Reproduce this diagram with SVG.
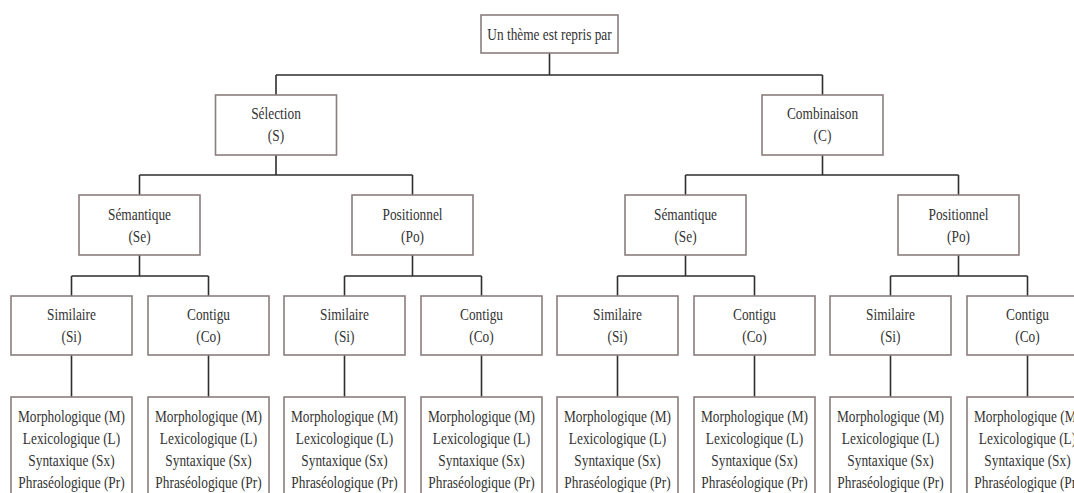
<svg xmlns="http://www.w3.org/2000/svg" width="1074" height="493" viewBox="0 0 1074 493">
<style>
.box{fill:#ffffff;stroke:#8a7e7e;stroke-width:1.6}
.t{font-family:'Liberation Serif','Times New Roman',serif;font-size:17px;fill:#333333;text-anchor:middle}
.c{fill:none;stroke:#2e2e2e;stroke-width:1.6}
</style>
<rect width="1074" height="493" fill="#ffffff"/>
<g id="connectors">
<path class="c" d="M549.5,53V75M276,75H822.5M276,75V95M822.5,75V95"/>
<path class="c" d="M276,155V175M139.5,175H412.5M139.5,175V195M412.5,175V195"/>
<path class="c" d="M822.5,155V175M685.5,175H958.5M685.5,175V195M958.5,175V195"/>
<path class="c" d="M139.5,255V276M71.5,276H208.5M71.5,276V296M208.5,276V296"/>
<path class="c" d="M412.5,255V276M344.5,276H481.5M344.5,276V296M481.5,276V296"/>
<path class="c" d="M685.5,255V276M617.5,276H754.5M617.5,276V296M754.5,276V296"/>
<path class="c" d="M958.5,255V276M890.5,276H1027.5M890.5,276V296M1027.5,276V296"/>
<path class="c" d="M71.5,355V397M208.5,355V397M344.5,355V397M481.5,355V397M617.5,355V397M754.5,355V397M890.5,355V397M1027.5,355V397"/>
</g>
<g font-family="'Liberation Serif','Times New Roman',serif">
<g id="root"><rect class="box" x="481" y="15" width="137" height="38"/><text class="t" transform="translate(549.5,40) scale(0.785,1)">Un thème est repris par</text></g>
<g id="selection"><rect class="box" x="215.5" y="95" width="121" height="60"/><text class="t" transform="translate(276,119) scale(0.785,1)">Sélection</text><text class="t" transform="translate(276,141) scale(0.785,1)">(S)</text></g>
<g id="combinaison"><rect class="box" x="762" y="95" width="121" height="60"/><text class="t" transform="translate(822.5,119) scale(0.785,1)">Combinaison</text><text class="t" transform="translate(822.5,141) scale(0.785,1)">(C)</text></g>
<g id="s-semantique"><rect class="box" x="79" y="195" width="121" height="60"/><text class="t" transform="translate(139.5,220) scale(0.785,1)">Sémantique</text><text class="t" transform="translate(139.5,242) scale(0.785,1)">(Se)</text></g>
<g id="s-positionnel"><rect class="box" x="352" y="195" width="121" height="60"/><text class="t" transform="translate(412.5,220) scale(0.785,1)">Positionnel</text><text class="t" transform="translate(412.5,242) scale(0.785,1)">(Po)</text></g>
<g id="c-semantique"><rect class="box" x="625" y="195" width="121" height="60"/><text class="t" transform="translate(685.5,220) scale(0.785,1)">Sémantique</text><text class="t" transform="translate(685.5,242) scale(0.785,1)">(Se)</text></g>
<g id="c-positionnel"><rect class="box" x="898" y="195" width="121" height="60"/><text class="t" transform="translate(958.5,220) scale(0.785,1)">Positionnel</text><text class="t" transform="translate(958.5,242) scale(0.785,1)">(Po)</text></g>
<g id="sse-si"><rect class="box" x="11" y="296" width="121" height="59"/><text class="t" transform="translate(71.5,320) scale(0.785,1)">Similaire</text><text class="t" transform="translate(71.5,342) scale(0.785,1)">(Si)</text></g>
<g id="sse-co"><rect class="box" x="148" y="296" width="121" height="59"/><text class="t" transform="translate(208.5,320) scale(0.785,1)">Contigu</text><text class="t" transform="translate(208.5,342) scale(0.785,1)">(Co)</text></g>
<g id="spo-si"><rect class="box" x="284" y="296" width="121" height="59"/><text class="t" transform="translate(344.5,320) scale(0.785,1)">Similaire</text><text class="t" transform="translate(344.5,342) scale(0.785,1)">(Si)</text></g>
<g id="spo-co"><rect class="box" x="421" y="296" width="121" height="59"/><text class="t" transform="translate(481.5,320) scale(0.785,1)">Contigu</text><text class="t" transform="translate(481.5,342) scale(0.785,1)">(Co)</text></g>
<g id="cse-si"><rect class="box" x="557" y="296" width="121" height="59"/><text class="t" transform="translate(617.5,320) scale(0.785,1)">Similaire</text><text class="t" transform="translate(617.5,342) scale(0.785,1)">(Si)</text></g>
<g id="cse-co"><rect class="box" x="694" y="296" width="121" height="59"/><text class="t" transform="translate(754.5,320) scale(0.785,1)">Contigu</text><text class="t" transform="translate(754.5,342) scale(0.785,1)">(Co)</text></g>
<g id="cpo-si"><rect class="box" x="830" y="296" width="121" height="59"/><text class="t" transform="translate(890.5,320) scale(0.785,1)">Similaire</text><text class="t" transform="translate(890.5,342) scale(0.785,1)">(Si)</text></g>
<g id="cpo-co"><rect class="box" x="967" y="296" width="121" height="59"/><text class="t" transform="translate(1027.5,320) scale(0.785,1)">Contigu</text><text class="t" transform="translate(1027.5,342) scale(0.785,1)">(Co)</text></g>
<g id="leaf1"><rect class="box" x="11" y="397" width="121" height="110"/><text class="t" transform="translate(71.5,422) scale(0.785,1)">Morphologique (M)</text><text class="t" transform="translate(71.5,444) scale(0.785,1)">Lexicologique (L)</text><text class="t" transform="translate(71.5,466) scale(0.785,1)">Syntaxique (Sx)</text><text class="t" transform="translate(71.5,488) scale(0.785,1)">Phraséologique (Pr)</text></g>
<g id="leaf2"><rect class="box" x="148" y="397" width="121" height="110"/><text class="t" transform="translate(208.5,422) scale(0.785,1)">Morphologique (M)</text><text class="t" transform="translate(208.5,444) scale(0.785,1)">Lexicologique (L)</text><text class="t" transform="translate(208.5,466) scale(0.785,1)">Syntaxique (Sx)</text><text class="t" transform="translate(208.5,488) scale(0.785,1)">Phraséologique (Pr)</text></g>
<g id="leaf3"><rect class="box" x="284" y="397" width="121" height="110"/><text class="t" transform="translate(344.5,422) scale(0.785,1)">Morphologique (M)</text><text class="t" transform="translate(344.5,444) scale(0.785,1)">Lexicologique (L)</text><text class="t" transform="translate(344.5,466) scale(0.785,1)">Syntaxique (Sx)</text><text class="t" transform="translate(344.5,488) scale(0.785,1)">Phraséologique (Pr)</text></g>
<g id="leaf4"><rect class="box" x="421" y="397" width="121" height="110"/><text class="t" transform="translate(481.5,422) scale(0.785,1)">Morphologique (M)</text><text class="t" transform="translate(481.5,444) scale(0.785,1)">Lexicologique (L)</text><text class="t" transform="translate(481.5,466) scale(0.785,1)">Syntaxique (Sx)</text><text class="t" transform="translate(481.5,488) scale(0.785,1)">Phraséologique (Pr)</text></g>
<g id="leaf5"><rect class="box" x="557" y="397" width="121" height="110"/><text class="t" transform="translate(617.5,422) scale(0.785,1)">Morphologique (M)</text><text class="t" transform="translate(617.5,444) scale(0.785,1)">Lexicologique (L)</text><text class="t" transform="translate(617.5,466) scale(0.785,1)">Syntaxique (Sx)</text><text class="t" transform="translate(617.5,488) scale(0.785,1)">Phraséologique (Pr)</text></g>
<g id="leaf6"><rect class="box" x="694" y="397" width="121" height="110"/><text class="t" transform="translate(754.5,422) scale(0.785,1)">Morphologique (M)</text><text class="t" transform="translate(754.5,444) scale(0.785,1)">Lexicologique (L)</text><text class="t" transform="translate(754.5,466) scale(0.785,1)">Syntaxique (Sx)</text><text class="t" transform="translate(754.5,488) scale(0.785,1)">Phraséologique (Pr)</text></g>
<g id="leaf7"><rect class="box" x="830" y="397" width="121" height="110"/><text class="t" transform="translate(890.5,422) scale(0.785,1)">Morphologique (M)</text><text class="t" transform="translate(890.5,444) scale(0.785,1)">Lexicologique (L)</text><text class="t" transform="translate(890.5,466) scale(0.785,1)">Syntaxique (Sx)</text><text class="t" transform="translate(890.5,488) scale(0.785,1)">Phraséologique (Pr)</text></g>
<g id="leaf8"><rect class="box" x="967" y="397" width="121" height="110"/><text class="t" transform="translate(1027.5,422) scale(0.785,1)">Morphologique (M)</text><text class="t" transform="translate(1027.5,444) scale(0.785,1)">Lexicologique (L)</text><text class="t" transform="translate(1027.5,466) scale(0.785,1)">Syntaxique (Sx)</text><text class="t" transform="translate(1027.5,488) scale(0.785,1)">Phraséologique (Pr)</text></g>
</g>
</svg>
